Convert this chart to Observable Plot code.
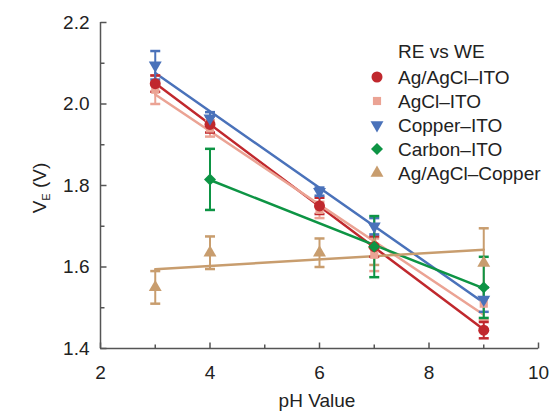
<!DOCTYPE html>
<html><head><meta charset="utf-8">
<script src="https://cdn.jsdelivr.net/npm/d3@7"></script>
<script src="https://cdn.jsdelivr.net/npm/@observablehq/plot@0.6"></script>
<style>
body{margin:0;background:#fff}
svg{font-family:"Liberation Sans",Arial,sans-serif}
</style>
</head><body><div id="chart"></div>
<script>
// ---------- data ----------
const seriesNames = ["Ag/AgCl–ITO","AgCl–ITO","Copper–ITO","Carbon–ITO","Ag/AgCl–Copper"];
const seriesColors = ["#c0282d","#eba394","#4a72ba","#0d9444","#c89d6e"];
const legendTitle = "RE vs WE";
const pHAll = [3,4,6,7,9];
const pHCarbon = [4,7,9];
const agagclITO = [2.05,1.95,1.75,1.65,1.445];
const agagclITOErr = [0.02,0.02,0.02,0.025,0.02];
const agclITO = [2.035,1.94,1.74,1.63,1.51];
const agclITOErr = [0.035,0.02,0.02,0.04,0.04];
const copperITO = [2.095,1.965,1.785,1.70,1.52];
const copperITOErr = [0.035,0.015,0.01,0.02,0.03];
const carbonITO = [1.815,1.65,1.55];
const carbonITOErr = [0.075,0.075,0.075];
const agagclCopper = [1.55,1.635,1.635,1.655,1.61];
const agagclCopperErr = [0.04,0.04,0.035,0.05,0.085];
const xTicks = [2,4,6,8,10];
const xMinorTicks = [3,5,7,9];
const yTicks = [1.4,1.6,1.8,2.0,2.2];
const yMinorTicks = [1.5,1.7,1.9,2.1];
const xLabel = "pH Value";

// ---------- build tables ----------
const seriesX = [pHAll,pHAll,pHAll,pHCarbon,pHAll];
const seriesY = [agagclITO,agclITO,copperITO,carbonITO,agagclCopper];
const seriesE = [agagclITOErr,agclITOErr,copperITOErr,carbonITOErr,agagclCopperErr];
const tables = seriesNames.map((name,i)=>seriesX[i].map((x,j)=>({
  series:name, x, y:seriesY[i][j], lo:seriesY[i][j]-seriesE[i][j], hi:seriesY[i][j]+seriesE[i][j]
})));

// ---------- symbols ----------
const s3 = Math.sqrt(3);
const triDown = {draw(ctx,size){const y=Math.sqrt(size/(s3*3));ctx.moveTo(0,y*2);ctx.lineTo(-s3*y,-y);ctx.lineTo(s3*y,-y);ctx.closePath();}};
const capSym = {draw(ctx){ctx.moveTo(-5,0);ctx.lineTo(5,0);}};
const tickUp = len => ({draw(ctx){ctx.moveTo(0,0);ctx.lineTo(0,-len);}});
const tickRight = len => ({draw(ctx){ctx.moveTo(0,0);ctx.lineTo(len,0);}});
const seriesSymbols = ["circle","square",triDown,"diamond2","triangle"];
const seriesR = [5.5,4.6,4.8,5.4,4.8];
const FS = 19;

const marks = [];
// regression lines
tables.forEach((t,i)=>marks.push(Plot.linearRegressionY(t,{x:"x",y:"y",stroke:seriesColors[i],strokeWidth:2.5,ci:0})));
// error bars and points
const drawOrder = [4,1,0,2,3];
drawOrder.forEach(i=>{
  const t = tables[i], c = seriesColors[i];
  marks.push(Plot.ruleX(t,{x:"x",y1:"lo",y2:"hi",stroke:c,strokeWidth:2}));
  marks.push(Plot.dot(t,{x:"x",y:"lo",symbol:capSym,stroke:c,strokeWidth:2.5,fill:"none"}));
  marks.push(Plot.dot(t,{x:"x",y:"hi",symbol:capSym,stroke:c,strokeWidth:2.5,fill:"none"}));
});
drawOrder.forEach(i=>{
  marks.push(Plot.dot(tables[i],{x:"x",y:"y",symbol:seriesSymbols[i],r:seriesR[i],fill:seriesColors[i],stroke:"none"}));
});
// axes
const axisColor = "#555";
marks.push(
  Plot.ruleY([yTicks[0]],{stroke:axisColor,strokeWidth:1.5}),
  Plot.ruleX([xTicks[0]],{stroke:axisColor,strokeWidth:1.5}),
  Plot.dot(xTicks,{x:d=>d,frameAnchor:"bottom",symbol:tickUp(6),stroke:axisColor,strokeWidth:1.5}),
  Plot.dot(xMinorTicks,{x:d=>d,frameAnchor:"bottom",symbol:tickUp(4),stroke:axisColor,strokeWidth:1.5}),
  Plot.dot(yTicks,{y:d=>d,frameAnchor:"left",symbol:tickRight(6),stroke:axisColor,strokeWidth:1.5}),
  Plot.dot(yMinorTicks,{y:d=>d,frameAnchor:"left",symbol:tickRight(4),stroke:axisColor,strokeWidth:1.5}),
  Plot.axisX({ticks:xTicks,tickSize:0,tickPadding:17,tickFormat:d3.format("d"),fontSize:FS,fill:"#222",label:null}),
  Plot.axisY({ticks:yTicks,tickSize:0,tickPadding:11,tickFormat:d3.format(".1f"),fontSize:FS,fill:"#222",label:null})
);

const chart = Plot.plot({
  width:554, height:413,
  marginLeft:100, marginRight:16, marginTop:22, marginBottom:65,
  x:{domain:[2,10]},
  y:{domain:[1.4,2.2]},
  style:{fontSize:FS+"px",fontFamily:'"Liberation Sans",Arial,sans-serif',background:"#fff"},
  marks
});
document.getElementById("chart").appendChild(chart);

// ---------- labels & legend ----------
const svg = d3.select(chart);
svg.append("text").attr("x",317).attr("y",407).attr("text-anchor","middle")
  .attr("font-size",FS).attr("fill","#222").text(xLabel);
const yl = svg.append("text").attr("transform","translate(46,188) rotate(-90)")
  .attr("text-anchor","middle").attr("font-size",FS).attr("fill","#222");
yl.append("tspan").text("V");
yl.append("tspan").attr("font-size",11).attr("dy",4).text("E");
yl.append("tspan").attr("dy",-4).text(" (V)");

const lg = svg.append("g").attr("text-anchor","start");
lg.append("text").attr("x",398).attr("y",58).attr("font-size",FS).attr("fill","#222").text(legendTitle);
const symMap = [d3.symbolCircle,d3.symbolSquare,triDown,d3.symbolDiamond2,d3.symbolTriangle];
seriesNames.forEach((name,i)=>{
  const cy = 77 + i*24;
  lg.append("path").attr("transform",`translate(377,${cy})`)
    .attr("d",d3.symbol(symMap[i], Math.PI*seriesR[i]*seriesR[i])())
    .attr("fill",seriesColors[i]);
  lg.append("text").attr("x",398).attr("y",cy+7).attr("font-size",FS).attr("fill","#222").text(name);
});
</script>
</body></html>
